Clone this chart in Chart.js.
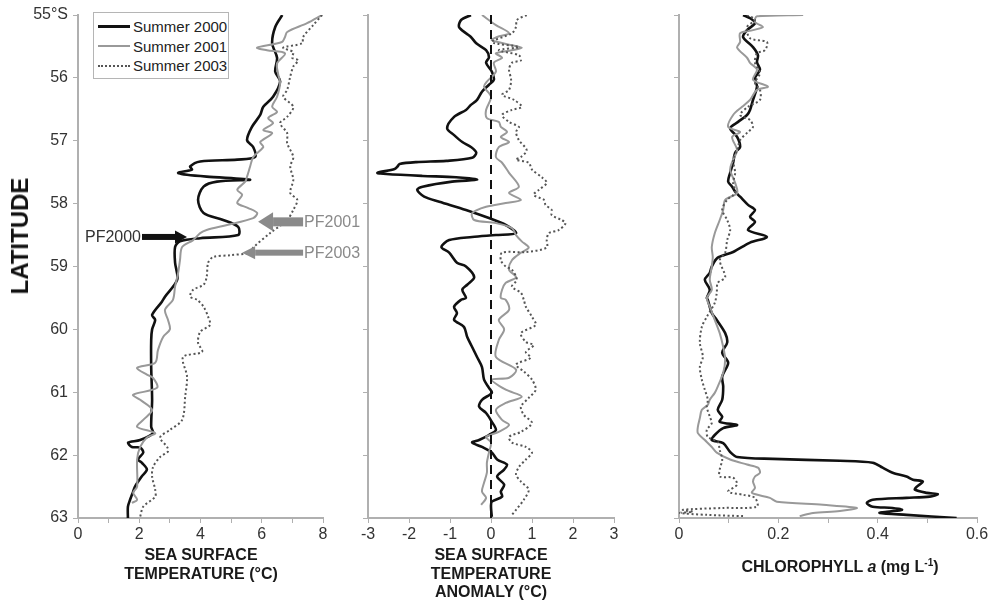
<!DOCTYPE html>
<html lang="en">
<head>
<meta charset="UTF-8">
<title>SST, SST anomaly and chlorophyll a by latitude</title>
<style>
  body { margin: 0; background: #fff; font-family: "Liberation Sans", Arial, sans-serif; }
  #wrap { position: relative; width: 1003px; height: 600px; overflow: hidden; }
  #wrap canvas { position: absolute; top: 0; }
  .ttl {
    position: absolute; transform: translateX(-50%);
    font-weight: bold; font-size: 16px; line-height: 18.5px;
    color: #1a1a1a; text-align: center; white-space: nowrap;
  }
  #latTitle {
    position: absolute; left: 20px; top: 236px;
    transform: translate(-50%, -50%) rotate(-90deg);
    font-weight: bold; font-size: 24px; color: #111;
  }
  #legend {
    position: absolute; left: 93px; top: 12px; width: 136px; height: 67px;
    border: 1px solid #b5b5b5; background: #fff; padding-top: 4px; box-sizing: border-box;
  }
  .lg-row { height: 19.5px; display: flex; align-items: center; font-size: 15px; color: #222; }
  .lg-line { width: 32px; margin-left: 4px; margin-right: 3px; }
</style>
</head>
<body>
<div id="wrap">
  <canvas id="anomChart" width="290" height="600" style="left:340px"></canvas>
  <canvas id="chlChart" width="363" height="600" style="left:640px"></canvas>
  <canvas id="sstChart" width="364" height="600" style="left:0"></canvas>
  <div id="latTitle">LATITUDE</div>
  <div id="legend"></div>
  <div class="ttl" style="left:201px; top:546px">SEA SURFACE<br>TEMPERATURE (°C)</div>
  <div class="ttl" style="left:491px; top:546px">SEA SURFACE<br>TEMPERATURE<br>ANOMALY (°C)</div>
  <div class="ttl" style="left:840px; top:554px">CHLOROPHYLL <i>a</i> (mg L<sup style="font-size:10px">-1</sup>)</div>
</div>

<script src="https://cdn.jsdelivr.net/npm/chart.js/dist/chart.umd.min.js"></script>
<script>
// series
const seriesNames = ['Summer 2000', 'Summer 2001', 'Summer 2003'];

// sea surface temperature (°C) vs latitude (°S)
const sst2000Lat = [55.0,55.19,55.45,55.68,55.9,56.06,56.3,56.46,56.59,56.78,56.99,57.1,57.26,57.3,57.33,57.41,57.46,57.51,57.54,57.57,57.62,57.65,57.73,57.94,58.15,58.26,58.37,58.5,58.55,58.6,58.69,58.94,59.21,59.48,59.56,59.77,59.85,60.0,60.17,60.6,61.12,61.55,61.65,61.76,61.8,61.87,61.88,61.96,62.07,62.12,62.23,62.34,62.5,62.58,62.71,62.82,63.0];
const sst2000 = [6.67,6.44,6.34,6.5,6.44,6.6,6.37,6.05,5.95,5.68,5.52,5.72,5.78,5.2,3.99,3.66,3.72,3.27,3.56,4.2,5.62,4.54,4.1,3.92,4.1,4.74,5.23,5.23,3.99,3.33,3.17,3.17,3.24,2.84,2.74,2.42,2.52,2.42,2.39,2.39,2.42,2.39,2.45,2.03,1.64,1.76,2.03,2.13,1.96,2.08,2.25,2.08,1.86,1.8,1.7,1.63,1.63];
const sst2001Lat = [55.0,55.13,55.27,55.35,55.43,55.52,55.56,55.61,55.77,55.95,56.08,56.3,56.46,56.54,56.64,56.72,56.83,56.88,57.02,57.1,57.26,57.41,57.57,57.65,57.78,57.86,57.99,58.07,58.15,58.23,58.34,58.42,58.47,58.58,58.69,58.9,59.1,59.32,59.53,59.69,59.85,60.0,60.12,60.33,60.53,60.61,60.72,60.77,60.93,61.04,61.12,61.28,61.44,61.55,61.65,61.72,61.87,62.07,62.5,62.6,62.71,62.76];
const sst2001 = [7.97,7.48,6.83,6.76,6.66,5.85,6.17,6.76,6.5,6.54,6.6,6.5,6.34,6.5,6.21,6.37,6.05,6.34,5.95,6.05,5.72,5.62,5.52,5.46,5.2,5.36,5.2,5.56,5.85,5.72,4.87,4.2,3.99,3.76,3.4,3.33,3.27,3.17,3.1,2.84,2.94,3.0,2.78,2.61,2.52,1.93,2.25,2.45,2.58,1.8,2.03,2.42,2.13,1.93,2.52,2.25,2.03,1.93,1.93,1.8,1.93,1.76];
const sst2003Lat = [55.0,55.16,55.35,55.45,55.52,55.59,55.68,55.72,55.82,55.98,56.19,56.3,56.46,56.62,56.72,56.88,57.04,57.26,57.41,57.62,57.83,57.94,58.1,58.26,58.47,58.7,58.78,58.82,58.85,58.94,59.17,59.29,59.37,59.48,59.53,59.64,59.8,59.93,60.04,60.21,60.36,60.44,60.75,61.07,61.44,61.6,61.72,61.87,61.94,62.03,62.19,62.34,62.55,62.66,62.82,62.98];
const sst2003 = [7.97,7.68,7.35,7.32,6.7,7.03,6.99,7.19,7.03,6.93,6.83,6.7,7.03,6.83,6.6,6.83,6.83,7.03,6.93,7.03,6.93,7.16,7.03,6.83,6.27,5.72,5.62,4.97,4.41,4.25,4.2,4.1,3.76,3.66,3.89,4.1,4.25,4.31,3.99,3.92,4.05,3.43,3.56,3.5,3.4,3.0,2.68,2.91,2.94,2.68,2.45,2.42,2.52,2.52,2.13,2.03];

// SST anomaly (°C)
const anom2000Lat = [55.0,55.08,55.19,55.29,55.35,55.45,55.56,55.67,55.76,55.9,56.03,56.11,56.22,56.35,56.43,56.51,56.62,56.8,56.91,57.02,57.1,57.19,57.27,57.32,57.34,57.37,57.41,57.45,57.51,57.53,57.56,57.58,57.62,57.65,57.73,57.78,57.89,57.97,58.1,58.23,58.34,58.47,58.5,58.53,58.58,58.69,58.78,58.94,59.0,59.17,59.29,59.37,59.5,59.53,59.64,59.74,59.85,59.96,60.12,60.28,60.44,60.6,60.8,60.93,61.01,61.12,61.23,61.33,61.47,61.6,61.68,61.76,61.8,61.87,61.96,62.07,62.15,62.23,62.34,62.47,62.58,62.66,62.74,62.82,62.98];
const anom2000 = [-0.49,-0.73,-0.78,-0.61,-0.49,-0.36,-0.12,-0.05,-0.12,0.02,0.07,-0.05,-0.22,-0.34,-0.49,-0.61,-0.9,-1.07,-0.9,-0.7,-0.49,-0.36,-0.46,-1.09,-1.82,-2.23,-2.28,-2.35,-2.77,-2.55,-1.67,-0.85,-0.34,-0.95,-1.67,-1.8,-1.63,-1.26,-0.61,-0.05,0.36,0.61,0.12,-0.46,-1.02,-1.21,-1.02,-0.83,-0.61,-0.41,-0.58,-0.7,-0.61,-0.73,-0.9,-0.83,-0.9,-0.66,-0.58,-0.46,-0.34,-0.22,-0.17,-0.05,0.02,-0.22,-0.29,-0.12,0.02,0.12,-0.05,-0.29,-0.46,-0.22,0.02,0.15,0.39,0.32,0.15,0.32,0.24,0.27,0.02,0.0,0.02];
const anom2001Lat = [55.0,55.16,55.29,55.35,55.4,55.48,55.52,55.56,55.61,55.68,55.76,55.9,56.06,56.14,56.3,56.51,56.64,56.7,56.78,56.86,56.94,57.02,57.1,57.26,57.35,57.51,57.73,57.83,57.94,57.99,58.05,58.15,58.26,58.31,58.39,58.5,58.6,58.7,58.78,58.9,59.05,59.17,59.26,59.37,59.5,59.53,59.69,59.85,60.0,60.17,60.44,60.64,60.77,60.8,60.96,61.07,61.17,61.28,61.44,61.52,61.63,61.71,61.8,61.96,62.12,62.28,62.44,62.58,62.68,62.79];
const anom2001 = [-0.22,0.12,0.44,0.15,0.02,0.51,0.75,0.51,0.12,0.27,0.07,0.12,-0.1,-0.17,0.0,-0.12,-0.1,0.19,0.24,0.39,0.24,0.44,0.19,0.12,0.27,0.44,0.68,0.44,0.73,0.36,-0.12,-0.46,-0.41,0.12,0.51,0.61,0.75,0.92,0.73,0.51,0.44,0.61,0.36,0.27,0.24,0.36,0.44,0.19,0.32,0.19,0.12,0.61,0.44,0.02,0.36,0.75,0.36,0.12,0.27,0.44,0.19,-0.12,0.0,-0.05,-0.1,-0.1,-0.17,-0.22,-0.12,-0.24];
const anom2003Lat = [55.0,55.08,55.19,55.29,55.43,55.51,55.56,55.64,55.72,55.76,55.87,56.03,56.19,56.27,56.35,56.46,56.51,56.59,56.7,56.78,56.86,56.99,57.15,57.26,57.3,57.35,57.46,57.58,57.67,57.78,57.86,57.94,58.02,58.1,58.18,58.26,58.31,58.42,58.47,58.58,58.7,58.77,58.78,58.9,59.0,59.05,59.21,59.32,59.42,59.53,59.64,59.8,59.93,60.06,60.2,60.25,60.36,60.45,60.56,60.67,60.8,60.96,61.09,61.23,61.36,61.49,61.63,61.71,61.8,61.87,61.96,62.07,62.19,62.31,62.42,62.55,62.71,62.87,62.95];
const anom2003 = [0.87,0.63,0.61,0.51,0.02,0.68,0.19,0.68,0.73,0.51,0.44,0.49,0.44,0.27,0.56,0.75,0.51,0.27,0.44,0.68,0.61,0.68,0.87,0.73,0.61,0.92,1.0,1.24,1.36,1.17,1.04,1.29,1.33,1.48,1.48,1.72,1.82,1.65,1.41,1.36,1.36,0.85,0.27,0.24,0.36,0.51,0.63,0.51,0.73,0.8,0.85,1.0,1.09,0.73,0.85,1.04,0.85,0.97,0.61,0.8,1.0,1.09,0.92,0.73,0.8,1.0,0.73,0.44,0.51,0.85,1.0,0.85,0.68,0.61,0.73,0.92,0.8,0.61,0.51];
const zeroLineLat = [55, 63];
const zeroLineX = [0, 0];

// chlorophyll a (mg L-1)
const chl2000Lat = [55.0,55.05,55.13,55.24,55.35,55.51,55.64,55.75,55.87,56.0,56.14,56.35,56.51,56.59,56.7,56.8,56.94,57.1,57.19,57.35,57.51,57.65,57.73,57.81,57.89,58.02,58.1,58.21,58.29,58.42,58.53,58.62,58.77,58.86,59.0,59.1,59.21,59.37,59.5,59.53,59.74,59.85,60.06,60.21,60.37,60.53,60.75,60.91,61.12,61.28,61.39,61.47,61.52,61.57,61.68,61.76,61.81,61.95,62.03,62.06,62.09,62.12,62.2,62.28,62.34,62.39,62.42,62.5,62.55,62.6,62.62,62.66,62.68,62.71,62.76,62.82,62.84,62.87,62.9,62.92,62.95,63.0];
const chl2000 = [0.129,0.143,0.153,0.137,0.129,0.149,0.159,0.157,0.163,0.153,0.157,0.149,0.143,0.137,0.119,0.103,0.117,0.123,0.113,0.109,0.103,0.099,0.107,0.113,0.123,0.139,0.153,0.143,0.153,0.139,0.177,0.143,0.109,0.078,0.066,0.062,0.052,0.062,0.056,0.058,0.066,0.076,0.093,0.097,0.087,0.099,0.087,0.089,0.087,0.078,0.087,0.082,0.117,0.089,0.072,0.066,0.089,0.103,0.117,0.189,0.324,0.39,0.41,0.43,0.458,0.471,0.491,0.479,0.475,0.499,0.521,0.505,0.458,0.39,0.378,0.39,0.43,0.449,0.419,0.404,0.458,0.559];
const chl2001Lat = [55.0,55.02,55.11,55.19,55.24,55.29,55.43,55.52,55.68,55.76,55.87,56.03,56.14,56.19,56.35,56.46,56.59,56.78,56.86,56.94,57.15,57.3,57.46,57.67,57.83,57.94,58.1,58.26,58.47,58.69,58.85,59.0,59.21,59.37,59.5,59.64,59.85,60.06,60.28,60.48,60.69,60.91,61.01,61.12,61.2,61.28,61.41,61.55,61.65,61.76,61.87,61.96,62.07,62.15,62.2,62.28,62.34,62.42,62.52,62.6,62.68,62.74,62.79,62.84,62.89,62.92,62.97];
const chl2001 = [0.25,0.157,0.153,0.169,0.149,0.123,0.123,0.117,0.137,0.143,0.157,0.149,0.179,0.157,0.143,0.127,0.109,0.099,0.123,0.107,0.117,0.109,0.103,0.113,0.117,0.093,0.089,0.082,0.072,0.066,0.068,0.066,0.062,0.066,0.056,0.062,0.072,0.082,0.089,0.093,0.089,0.078,0.072,0.062,0.058,0.046,0.042,0.038,0.038,0.052,0.066,0.076,0.103,0.137,0.159,0.163,0.153,0.149,0.153,0.147,0.183,0.197,0.29,0.358,0.324,0.27,0.243];
const chl2003Lat = [55.0,55.08,55.19,55.37,55.43,55.56,55.61,55.76,55.92,56.08,56.19,56.35,56.46,56.59,56.67,56.78,56.86,56.99,57.15,57.3,57.51,57.67,57.83,57.94,58.1,58.26,58.42,58.58,58.78,58.9,59.17,59.26,59.42,59.58,59.8,59.96,60.21,60.44,60.6,60.8,60.96,61.12,61.23,61.39,61.49,61.6,61.71,61.79,61.92,62.07,62.23,62.34,62.36,62.47,62.58,62.63,62.68,62.82,62.84,62.87,62.9,62.92,62.95,62.97];
const chl2003 = [0.137,0.153,0.137,0.143,0.177,0.173,0.157,0.153,0.163,0.153,0.163,0.163,0.139,0.123,0.143,0.149,0.139,0.123,0.117,0.109,0.113,0.109,0.113,0.097,0.087,0.097,0.103,0.097,0.093,0.082,0.093,0.078,0.076,0.072,0.056,0.046,0.042,0.048,0.042,0.046,0.052,0.058,0.056,0.062,0.066,0.056,0.058,0.078,0.082,0.087,0.082,0.082,0.109,0.117,0.099,0.129,0.153,0.157,0.089,0.008,0.028,0.002,0.056,0.129];

// polar front markers on the SST panel
const pfNames = ['PF2000', 'PF2001', 'PF2003'];
const pfLat = [58.53, 58.29, 58.78];
const pfTailX = [2.09, 7.35, 7.35];
const pfTipX = [3.56, 5.88, 5.36];

// line styles per series
const lineStyles = [
  { color: '#111', width: 2.6, dash: [] },
  { color: '#999', width: 2, dash: [] },
  { color: '#555', width: 2, dash: [2, 2.5] }
];
const arrowStyles = [
  { fill: '#111', text: '#333', shaft: 6, headLen: 12, headW: 13 },
  { fill: '#8a8a8a', text: '#8a8a8a', shaft: 9, headLen: 15, headW: 19 },
  { fill: '#8a8a8a', text: '#8a8a8a', shaft: 6, headLen: 13, headW: 13 }
];

Chart.defaults.font.family = '"Liberation Sans", Arial, sans-serif';
Chart.defaults.color = '#333';

function toPoints(lat, vals) {
  const n = Math.min(lat.length, vals.length);
  const pts = [];
  for (let i = 0; i < n; i++) pts.push({ x: vals[i], y: lat[i] });
  return pts;
}

function seriesDataset(i, lat, vals) {
  const s = lineStyles[i];
  return {
    label: seriesNames[i],
    data: toPoints(lat, vals),
    borderColor: s.color,
    borderWidth: s.width,
    borderDash: s.dash,
    pointRadius: 0,
    tension: 0.3,
    fill: false
  };
}

// legend (html, from the series styles)
const legendEl = document.getElementById('legend');
seriesNames.forEach((name, i) => {
  const s = lineStyles[i];
  const row = document.createElement('div');
  row.className = 'lg-row';
  const ln = document.createElement('span');
  ln.className = 'lg-line';
  ln.style.borderTop = s.dash.length ? '2px dotted ' + s.color : Math.round(s.width) + 'px solid ' + s.color;
  row.appendChild(ln);
  row.appendChild(document.createTextNode(name));
  legendEl.appendChild(row);
});

const pfArrows = {
  id: 'pfArrows',
  afterDatasetsDraw(chart) {
    const { ctx, scales: { x, y } } = chart;
    ctx.save();
    pfNames.forEach((name, i) => {
      const st = arrowStyles[i];
      const yy = y.getPixelForValue(pfLat[i]);
      const x0 = x.getPixelForValue(pfTailX[i]);
      const x1 = x.getPixelForValue(pfTipX[i]);
      const dir = x1 > x0 ? 1 : -1;
      const hb = x1 - dir * st.headLen;
      ctx.fillStyle = st.fill;
      ctx.fillRect(Math.min(x0, hb), yy - st.shaft / 2, Math.abs(hb - x0), st.shaft);
      ctx.beginPath();
      ctx.moveTo(x1, yy);
      ctx.lineTo(hb, yy - st.headW / 2);
      ctx.lineTo(hb, yy + st.headW / 2);
      ctx.closePath();
      ctx.fill();
      ctx.font = '16px "Liberation Sans", Arial, sans-serif';
      ctx.textBaseline = 'middle';
      ctx.textAlign = dir > 0 ? 'right' : 'left';
      ctx.fillStyle = st.text;
      ctx.fillText(name, x0 - dir * 1, yy + 1);
    });
    ctx.restore();
  }
};

function makePanel(id, datasets, xOpts, yWidth, padRight, showLatLabels, plugins) {
  return new Chart(document.getElementById(id), {
    type: 'scatter',
    data: { datasets },
    options: {
      responsive: false,
      animation: false,
      showLine: true,
      layout: { padding: { left: 0, right: padRight, top: 15, bottom: 0 } },
      plugins: { legend: { display: false }, tooltip: { enabled: false } },
      scales: {
        x: {
          type: 'linear',
          min: xOpts.min, max: xOpts.max,
          afterFit(scale) { scale.height = 82; },
          border: { display: true, color: '#b0b0b0', width: 2 },
          grid: { drawOnChartArea: false, drawTicks: true, tickLength: 5, color: '#b0b0b0' },
          ticks: {
            stepSize: xOpts.step, autoSkip: false, maxRotation: 0, padding: 2,
            font: { size: 16 }, color: '#333',
            callback: xOpts.label
          }
        },
        y: {
          type: 'linear',
          reverse: true,
          min: 55, max: 63,
          afterFit(scale) { scale.width = yWidth; },
          border: { display: true, color: '#b0b0b0', width: 2 },
          grid: { drawOnChartArea: false, drawTicks: true, tickLength: 5, color: '#b0b0b0' },
          ticks: {
            stepSize: 1, autoSkip: false, padding: 5,
            font: { size: 16 }, color: '#333',
            callback: v => showLatLabels ? (v === 55 ? '55°S' : String(v)) : ''
          }
        }
      }
    },
    plugins: plugins || []
  });
}

makePanel('sstChart', [
  seriesDataset(2, sst2003Lat, sst2003),
  seriesDataset(1, sst2001Lat, sst2001),
  seriesDataset(0, sst2000Lat, sst2000)
], { min: 0, max: 8, step: 1, label: v => (v % 2 === 0 ? String(v) : '') }, 78, 41, true, [pfArrows]);

makePanel('anomChart', [
  {
    label: 'zero',
    data: toPoints(zeroLineLat, zeroLineX),
    borderColor: '#111', borderWidth: 2, borderDash: [9, 6], pointRadius: 0
  },
  seriesDataset(2, anom2003Lat, anom2003),
  seriesDataset(1, anom2001Lat, anom2001),
  seriesDataset(0, anom2000Lat, anom2000)
], { min: -3, max: 3, step: 1, label: v => String(v) }, 28, 16, false);

makePanel('chlChart', [
  seriesDataset(2, chl2003Lat, chl2003),
  seriesDataset(1, chl2001Lat, chl2001),
  seriesDataset(0, chl2000Lat, chl2000)
], {
  min: 0, max: 0.6, step: 0.1,
  label: v => {
    const k = Math.round(v * 10);
    return k % 2 === 0 ? (k === 0 ? '0' : (k / 10).toFixed(1)) : '';
  }
}, 39, 26, false);
</script>
</body>
</html>
